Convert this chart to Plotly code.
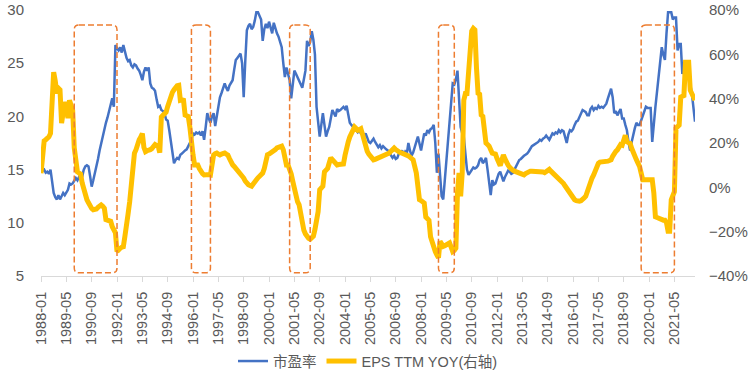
import pandas as pd
import plotly.graph_objects as go

# 市盈率 (left axis), monthly from 1988-01
pe = [
    15.2, 14.9, 15.0, 14.7, 14.8, 14.6, 15.0, 14.0, 12.8, 12.4, 12.2, 12.6,
    12.2, 12.5, 12.8, 12.6, 12.9, 13.1, 13.7, 13.6, 13.7, 13.9, 14.2, 14.0,
    14.3, 14.1, 14.3, 15.0, 15.3, 15.4, 15.3, 14.4, 13.4, 14.0, 14.6, 15.3,
    16.0, 16.8, 17.5, 18.0, 18.6, 19.4, 19.9, 20.6, 21.2, 21.7, 20.9, 26.7,
    26.4, 26.2, 26.5, 26.0, 26.7, 26.0, 25.5, 25.2, 25.3, 24.8, 24.6, 24.9,
    24.8, 24.5, 24.3, 23.9, 23.4, 24.2, 24.6, 24.3, 24.6, 23.1, 22.7, 22.6,
    22.4, 21.6, 20.9, 21.0, 20.6, 20.5, 20.3, 19.7, 19.6, 18.7, 17.8, 16.6,
    15.6, 15.9, 16.1, 16.0, 16.4, 16.5, 16.7, 16.8, 16.9, 17.2, 17.4, 17.8,
    18.4, 18.3, 18.5, 18.4, 18.5, 18.2, 18.6, 17.8, 19.0, 20.3, 19.8, 19.4,
    20.0, 20.3, 19.1, 20.0, 21.0, 21.8, 22.2, 22.6, 23.1, 22.7, 22.4, 22.9,
    23.2, 23.4, 24.4, 25.3, 25.5, 25.7, 25.9, 25.0, 21.8, 25.2, 28.1, 28.5,
    28.7, 28.2, 28.4, 29.0, 29.8, 29.8, 29.4, 29.1, 27.1, 28.2, 28.7, 28.3,
    28.9, 28.4, 27.8, 28.8, 28.2, 27.8, 27.5, 27.1, 26.5, 25.0, 23.7, 24.6,
    24.0, 23.4, 21.7, 23.0, 24.3, 24.0, 23.7, 23.3, 23.0, 22.7, 23.5, 24.3,
    27.1, 26.6, 27.0, 28.0, 27.2, 25.8, 20.9, 19.3, 18.1, 19.2, 20.3, 19.2,
    18.1, 18.6, 19.0, 19.8, 20.6, 20.3, 20.0, 20.7, 20.5, 20.6, 20.8, 20.9,
    20.7, 21.0, 20.2, 19.4, 19.2, 19.0, 18.8, 18.6, 18.5, 18.7, 18.4, 18.3,
    18.1, 18.4, 18.0, 17.6, 17.5, 17.7, 17.9, 17.6, 17.4, 17.1, 17.3, 17.0,
    17.2, 17.0, 16.9, 16.8, 16.6, 16.4, 16.1, 16.3, 16.0, 16.1, 16.5, 16.6,
    16.8, 16.4, 16.7, 16.5, 17.5, 16.8, 16.3, 16.6, 17.0, 17.6, 18.1, 17.4,
    16.8, 17.6, 18.4, 18.2, 18.7, 18.5, 18.8, 18.9, 19.2, 17.5, 14.7, 16.5,
    14.5, 12.5, 12.2, 14.0, 15.3, 17.5, 19.0, 20.6, 23.1, 23.0, 23.5, 24.3,
    21.0, 19.0, 18.4, 18.1, 16.5, 15.0, 14.5, 14.7, 15.0, 15.2, 15.1, 15.2,
    15.4, 15.9, 16.1, 15.6, 15.8, 16.1, 15.0, 13.8, 12.6, 14.0, 13.6, 13.7,
    14.2, 14.6, 14.8, 14.3, 13.9, 14.3, 14.7, 14.9, 14.8, 14.6, 14.7, 15.0,
    15.3, 15.6, 15.9, 16.0, 16.2, 16.3, 16.4, 16.5, 16.7, 17.0, 17.2, 17.3,
    17.4, 17.5, 17.6, 17.8, 17.7, 17.9, 18.0, 18.2, 18.0, 17.8, 18.1, 18.4,
    18.3, 18.5, 18.4, 18.7, 18.5, 18.7, 18.6, 18.0, 17.5, 18.3, 18.7, 18.6,
    18.8, 19.2, 19.5, 19.6, 19.9, 20.2, 20.6, 20.5, 20.4, 20.1, 20.1, 20.7,
    20.9, 20.6, 20.8, 20.7, 21.0, 20.8, 20.9, 20.8, 21.0, 21.2, 21.7, 22.1,
    22.6, 21.8, 20.3, 20.5, 20.1, 20.4, 20.7, 19.8, 19.8, 19.2, 18.7, 17.6,
    16.8, 17.6, 18.4, 18.9, 19.4, 19.2, 19.2, 19.6, 20.1, 20.5, 20.9, 20.8,
    20.8, 20.8, 17.6, 19.5, 20.9, 22.3, 23.7, 25.0, 26.5, 25.8, 25.3, 27.8,
    29.8, 29.8, 29.8, 29.1, 29.3, 29.3, 26.2, 26.8, 26.8, 24.0, 24.6, 25.2,
    24.3, 23.7, 23.0, 22.2, 20.8, 19.5,
]

# EPS TTM YOY in % (right axis), monthly from 1988-01
eps_yoy = [
    6.4, 17.8, 21.0, 21.5, 22.0, 22.8, 24.3, 39.3, 52.0, 48.0, 42.4, 44.7,
    44.0, 29.0, 34.8, 38.4, 36.5, 31.2, 39.3, 36.0, 34.8, 17.8, 11.0, 7.0,
    6.5, 6.0, 2.0, -1.1, -3.0, -5.6, -7.0, -8.7, -9.5, -10.1, -10.0, -9.8,
    -9.0, -8.2, -7.9, -8.5, -9.4, -14.6, -14.8, -15.0, -15.3, -17.8, -19.0, -20.5,
    -29.0, -28.0, -27.5, -27.0, -26.8, -22.0, -18.2, -12.0, -6.5, 3.0, 12.4, 15.4,
    17.0, 19.9, 21.5, 22.7, 24.3, 18.0, 16.1, 16.5, 17.1, 17.0, 17.5, 18.5,
    19.3, 18.8, 18.5, 15.6, 31.7, 32.5, 33.0, 33.9, 36.5, 39.3, 41.0, 42.9,
    44.0, 45.2, 45.8, 46.0, 39.3, 39.5, 39.3, 32.6, 32.4, 32.0, 27.2, 19.3,
    14.6, 10.1, 10.3, 10.1, 8.5, 7.0, 6.2, 5.6, 5.8, 6.0, 5.8, 5.6,
    12.0, 14.6, 15.2, 15.5, 15.0, 14.6, 15.0, 15.3, 15.5, 15.0, 14.6, 13.0,
    11.0, 10.2, 9.4, 8.6, 7.9, 7.0, 6.4, 5.3, 4.2, 2.8, 1.5, 1.2,
    0.8, 0.5, 1.5, 2.7, 3.5, 4.3, 5.0, 5.5, 6.4, 8.5, 11.0, 14.7,
    15.0, 15.4, 15.8, 16.3, 17.0, 17.8, 18.2, 18.6, 18.6, 17.0, 13.0, 10.1,
    10.1, 8.6, 6.0, 2.7, -1.5, -5.6, -6.5, -7.9, -13.0, -17.8, -19.4, -21.0,
    -22.6, -23.0, -23.4, -23.0, -22.0, -19.0, -14.2, -11.0, -1.1, -0.3, 0.5, 7.0,
    7.8, 8.5, 11.0, 13.3, 12.5, 11.8, 11.0, 10.1, 10.3, 10.2, 10.4, 10.5,
    14.5, 18.6, 20.5, 22.7, 24.0, 25.0, 27.2, 26.5, 25.7, 26.0, 26.4, 24.0,
    21.0, 18.5, 16.3, 15.0, 14.1, 13.2, 12.4, 12.6, 12.9, 13.2, 13.5, 13.8,
    14.0, 14.0, 14.6, 15.0, 15.5, 16.3, 17.0, 17.7, 17.0, 16.3, 15.8, 15.6,
    15.4, 15.2, 15.0, 14.7, 14.2, 13.6, 13.0, 12.4, 9.5, 6.5, 0.5, -5.6,
    -6.0, -6.5, -7.1, -13.4, -14.0, -14.9, -22.3, -25.0, -27.3, -29.0, -30.5, -31.8,
    -24.4, -25.5, -26.6, -26.3, -26.0, -25.5, -25.1, -27.0, -29.0, -28.5, -27.5, -2.6,
    6.5, -4.1, 6.5, 39.3, 42.3, 42.3, 51.4, 64.9, 70.5, 71.7, 71.0, 54.0,
    42.4, 42.0, 32.6, 32.0, 25.8, 20.0, 19.3, 18.6, 17.0, 15.4, 15.2, 15.0,
    13.0, 11.0, 9.8, 12.2, 14.6, 12.8, 11.0, 10.0, 9.0, 8.1, 7.7, 7.3,
    7.0, 6.8, 6.6, 6.2, 5.9, 5.6, 6.2, 6.8, 7.3, 7.3, 7.3, 7.3,
    7.3, 7.3, 7.3, 7.3, 7.1, 6.9, 6.6, 7.1, 7.6, 8.1, 7.3, 6.6,
    5.8, 5.0, 4.6, 4.3, 3.5, 2.8, 1.7, 0.6, -0.6, -1.8, -2.5, -3.3,
    -4.5, -5.6, -6.0, -6.4, -6.2, -6.0, -5.6, -4.8, -4.0, -1.5, 1.1, 2.7,
    4.2, 5.6, 7.8, 10.1, 10.8, 11.4, 11.4, 11.4, 11.4, 11.6, 11.8, 12.1,
    12.4, 14.0, 15.5, 16.2, 16.9, 18.1, 19.3, 19.0, 22.7, 23.5, 20.6, 20.2,
    19.9, 17.6, 15.4, 13.9, 12.4, 10.9, 9.4, 6.4, 3.4, 3.4, 3.4, 3.2,
    3.0, 3.2, 3.4, -2.5, -13.3, -13.6, -14.0, -14.4, -14.8, -14.8, -14.8, -16.0,
    -19.8, -19.8, -5.6, -2.6, -2.0, 26.7, 27.5, 28.1, 40.7, 41.0, 41.4, 56.4,
    56.4, 56.4, 43.8, 42.0, 41.0, 39.3,
]

months = pd.period_range("1988-01", periods=len(pe), freq="M").strftime("%Y-%m").tolist()
tick_step = 16
tick_idx = list(range(0, len(months), tick_step))
tick_labels = [months[i] for i in tick_idx]

# highlighted periods (dashed boxes)
box_start = ["1989-10", "1995-12", "2001-02", "2008-12", "2019-08"]
box_end = ["1992-01", "1996-12", "2002-03", "2009-10", "2021-05"]

BLUE = "#4472C4"
GOLD = "#FFC000"
ORANGE = "#ED7D31"
GREY = "#595959"

x = list(range(len(months)))

fig = go.Figure()
fig.add_trace(go.Scatter(x=x, y=pe, name="市盈率", mode="lines",
                         line=dict(color=BLUE, width=2.5)))
fig.add_trace(go.Scatter(x=x, y=eps_yoy, name="EPS TTM YOY(右轴)", mode="lines",
                         line=dict(color=GOLD, width=5), yaxis="y2"))

rx, ry = 3.0, 0.45
y_top, y_bot = 28.6, 5.3
for s, e in zip(box_start, box_end):
    x0, x1 = months.index(s), months.index(e)
    path = (f"M {x0+rx},{y_top} L {x1-rx},{y_top} Q {x1},{y_top} {x1},{y_top-ry} "
            f"L {x1},{y_bot+ry} Q {x1},{y_bot} {x1-rx},{y_bot} "
            f"L {x0+rx},{y_bot} Q {x0},{y_bot} {x0},{y_bot+ry} "
            f"L {x0},{y_top-ry} Q {x0},{y_top} {x0+rx},{y_top} Z")
    fig.add_shape(type="path", path=path, xref="x", yref="y",
                  line=dict(color=ORANGE, width=1.5, dash="6px,3px"),
                  fillcolor="rgba(0,0,0,0)", layer="above")

fig.update_layout(
    width=751, height=378,
    margin=dict(l=41, r=56, t=10, b=102, autoexpand=False),
    paper_bgcolor="white", plot_bgcolor="white",
    font=dict(family="Liberation Sans, Noto Sans CJK SC, sans-serif", color=GREY, size=14),
    showlegend=True,
    legend=dict(orientation="h", x=0.5, xanchor="center", y=-0.32, yanchor="middle",
                font=dict(size=14.5, color=GREY, family="Liberation Sans, Noto Sans CJK SC"),
                itemwidth=30, tracegroupgap=0),
    xaxis=dict(range=[0, len(months) - 1], tickmode="array", tickvals=tick_idx,
               ticktext=tick_labels, tickangle=-90, showgrid=False, zeroline=False,
               showline=True, linecolor="#D9D9D9", linewidth=1, automargin=False,
               ticks="outside", ticklen=5, tickcolor="#D9D9D9",
               tickfont=dict(size=14.5, color=GREY), ticklabelstandoff=4),
    yaxis=dict(range=[5, 30], dtick=5, showgrid=False, zeroline=False, showline=False,
               automargin=False, ticklabeloverflow="allow",
               ticks="", tickfont=dict(size=15, color=GREY), ticklabelstandoff=16),
    yaxis2=dict(range=[-40, 80], dtick=20, overlaying="y", side="right", ticksuffix="%",
                automargin=False, ticklabeloverflow="allow",
                showgrid=False, zeroline=False, showline=False, ticks="",
                tickfont=dict(size=15, color=GREY), ticklabelstandoff=13),
)

# remove the default page margin so the figure sits at the window's top-left corner
fig.write_html("out.html", config={"displayModeBar": False},
               post_script="document.body.style.margin='0';")
